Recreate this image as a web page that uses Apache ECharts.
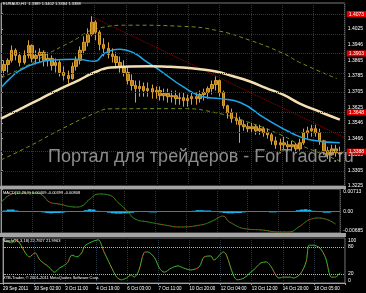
<!DOCTYPE html>
<html><head><meta charset="utf-8">
<script src="https://cdn.jsdelivr.net/npm/echarts@6/dist/echarts.min.js"></script>
<style>html,body{margin:0;padding:0;background:#000;}#c{width:366px;height:293px;}</style>
</head><body><div id="c"></div>
<script>
// ---------- data ----------
const xLabels = ['29 Sep 2011','30 Sep 02:00','3 Oct 11:00','4 Oct 19:00','6 Oct 03:00','7 Oct 11:00','10 Oct 20:00','12 Oct 04:00','13 Oct 12:00','14 Oct 20:00','18 Oct 05:00'];
const priceTickLabels = ['1.3225','1.3305','1.3385','1.3466','1.3546','1.3625','1.3705','1.3785','1.3865','1.3946','1.4025','1.4105'];

const candleBars = [3,7,11,15,19,24,28,32,36,40,44,48,52,56,60,64,69,73,77,81,85,89,93,97,101,105,110,114,118,122,126,130,134,138,142,146,150,155,159,163,167,171,175,179,183,187,191,195,200,204,208,212,216,220,224,228,232,236,241,245,249,253,257,261,265,269,273,277,281,286,290,294,298,302,306,310,314,318,322,326,331,335,339,343,347];
const openP  = [1.3813,1.3844,1.3865,1.3916,1.3890,1.3854,1.3890,1.3941,1.3875,1.3890,1.3906,1.3865,1.3875,1.3839,1.3854,1.3803,1.3788,1.3772,1.3834,1.3865,1.3916,1.3957,1.3998,1.4059,1.4008,1.3946,1.3926,1.3895,1.3885,1.3854,1.3834,1.3803,1.3762,1.3737,1.3721,1.3732,1.3711,1.3721,1.3701,1.3711,1.3685,1.3696,1.3680,1.3685,1.3670,1.3675,1.3660,1.3670,1.3680,1.3670,1.3691,1.3701,1.3721,1.3742,1.3762,1.3701,1.3634,1.3598,1.3568,1.3558,1.3537,1.3527,1.3517,1.3527,1.3506,1.3517,1.3496,1.3486,1.3455,1.3435,1.3445,1.3435,1.3425,1.3435,1.3414,1.3445,1.3496,1.3506,1.3517,1.3496,1.3455,1.3404,1.3384,1.3414,1.3394];
const closeP = [1.3844,1.3865,1.3916,1.3890,1.3854,1.3890,1.3941,1.3875,1.3890,1.3906,1.3865,1.3875,1.3839,1.3854,1.3803,1.3788,1.3772,1.3834,1.3865,1.3916,1.3957,1.3998,1.4059,1.4008,1.3946,1.3926,1.3895,1.3885,1.3854,1.3834,1.3803,1.3762,1.3737,1.3721,1.3732,1.3711,1.3721,1.3701,1.3711,1.3685,1.3696,1.3680,1.3685,1.3670,1.3675,1.3660,1.3670,1.3680,1.3670,1.3691,1.3701,1.3721,1.3742,1.3762,1.3701,1.3634,1.3598,1.3568,1.3558,1.3537,1.3527,1.3517,1.3527,1.3506,1.3517,1.3496,1.3486,1.3455,1.3435,1.3445,1.3435,1.3425,1.3435,1.3414,1.3445,1.3496,1.3506,1.3517,1.3496,1.3455,1.3404,1.3384,1.3414,1.3394,1.3388];
const lowP   = [1.3788,1.3803,1.3854,1.3865,1.3834,1.3844,1.3875,1.3854,1.3844,1.3854,1.3834,1.3834,1.3813,1.3803,1.3783,1.3762,1.3747,1.3767,1.3813,1.3844,1.3895,1.3936,1.3987,1.3967,1.3916,1.3885,1.3875,1.3854,1.3824,1.3803,1.3783,1.3742,1.3711,1.3650,1.3680,1.3680,1.3680,1.3670,1.3670,1.3660,1.3660,1.3650,1.3650,1.3639,1.3639,1.3629,1.3629,1.3639,1.3639,1.3650,1.3660,1.3670,1.3691,1.3711,1.3680,1.3619,1.3568,1.3547,1.3537,1.3445,1.3506,1.3496,1.3496,1.3486,1.3486,1.3476,1.3466,1.3435,1.3414,1.3404,1.3414,1.3404,1.3404,1.3394,1.3404,1.3435,1.3466,1.3476,1.3476,1.3435,1.3384,1.3363,1.3379,1.3374,1.3374];
const highP  = [1.3865,1.3875,1.3941,1.3926,1.3906,1.3916,1.3967,1.3946,1.3916,1.3926,1.3916,1.3906,1.3890,1.3875,1.3865,1.3834,1.3813,1.3854,1.3885,1.3936,1.3987,1.4028,1.4090,1.4069,1.4018,1.3977,1.3957,1.3926,1.3906,1.3885,1.3865,1.3834,1.3793,1.3762,1.3762,1.3752,1.3752,1.3742,1.3732,1.3732,1.3721,1.3721,1.3711,1.3711,1.3701,1.3701,1.3691,1.3701,1.3701,1.3711,1.3721,1.3732,1.3762,1.3783,1.3767,1.3711,1.3639,1.3619,1.3598,1.3578,1.3558,1.3547,1.3547,1.3537,1.3537,1.3527,1.3517,1.3496,1.3476,1.3466,1.3476,1.3455,1.3455,1.3445,1.3466,1.3517,1.3527,1.3537,1.3537,1.3517,1.3460,1.3425,1.3435,1.3435,1.3425];

const ma200Bars = [0,19,40,60,81,91,98,104,112,132,153,173,186,204,220,237,255,271,289,306,327,347];
const ma200     = [1.3568,1.3615,1.3668,1.3718,1.3767,1.3793,1.3808,1.3820,1.3828,1.3834,1.3835,1.3832,1.3829,1.3820,1.3808,1.3785,1.3757,1.3725,1.3690,1.3645,1.3602,1.3563];
const maBlueBars = [0,9,19,35,50,78,96,106,122,137,147,163,186,207,224,245,271,299,316,347];
const maBlue     = [1.3726,1.3772,1.3813,1.3849,1.3865,1.3870,1.3860,1.3900,1.3921,1.3900,1.3865,1.3813,1.3732,1.3680,1.3670,1.3650,1.3568,1.3491,1.3461,1.3445];
const envUpBars = [0,33,45,71,101,132,186,220,255,289,306,344];
const envUp     = [1.3775,1.3854,1.3890,1.3957,1.4030,1.4044,1.4038,1.4018,1.3967,1.3900,1.3854,1.3772];
const envLowBars = [0,30,60,98,112,186,220,255,289,306,327,347];
const envLow     = [1.3358,1.3430,1.3510,1.3600,1.3618,1.3619,1.3598,1.3547,1.3480,1.3435,1.3392,1.3353];
const levelPrices = [1.4073,1.3903,1.3648,1.3388];
const trendBars = [94,352];
const trendPrices = [1.4085,1.3471];

const macdBars = [0,9,19,37,45,50,60,78,84,91,102,112,122,132,139,153,170,186,207,217,227,230,237,255,271,289,299,309,322,330,347];
const macdVals = [0.00268,0.00522,0.00586,0.00586,0.00459,0.00300,0.00236,0.00141,0.00173,0.00364,0.00554,0.00522,0.00268,-0.00018,-0.00240,-0.00335,-0.00431,-0.00494,-0.00431,-0.00335,-0.00177,-0.00145,-0.00335,-0.00558,-0.00590,-0.00653,-0.00653,-0.00494,-0.00240,-0.00208,-0.00399];
const histBars = [4,8,12,16,44,48,52,56,60,64,68,88,92,96,100,112,116,120,124,128,132,136,140,152,156,160,164,200,204,208,212,216,220,228,232,236,240,244,248,252,256,280,284,288,308,312,316,320,324,332,336,340,344];
const histVals = [0.0003,0.0006,0.0006,0.0003,-0.0003,-0.0005,-0.0006,-0.0005,-0.0005,-0.0004,-0.0002,0.0004,0.0007,0.0006,0.0002,-0.0004,-0.0006,-0.0007,-0.0007,-0.0006,-0.0006,-0.0004,-0.0002,-0.0002,-0.0003,-0.0003,-0.0001,0.0002,0.0004,0.0004,0.0003,0.0003,0.0001,-0.0003,-0.0005,-0.0006,-0.0006,-0.0005,-0.0005,-0.0003,-0.0001,-0.0003,-0.0003,-0.0001,0.0004,0.0006,0.0007,0.0005,0.0002,-0.0002,-0.0004,-0.0004,-0.0002];
const macdTicks = [-0.00685,0,0.00713];
const macdTickLabels = ['-0.00685','0.00','0.00713'];

const stochBars = [0,6,9,12,17,23,27,33,38,47,53,58,66,71,76,81,84,91,98,104,112,117,122,127,132,135,140,145,149,156,161,166,173,180,186,193,202,207,214,217,227,230,237,241,248,255,258,265,271,276,284,289,296,299,306,312,315,319,326,332,338,342,347];
const stochVals = [93,91,89,96,89,67,58,67,51,36,24,33,44,62,58,67,82,91,96,69,33,13,7,11,18,13,29,67,69,56,33,24,33,38,33,29,36,58,60,51,69,62,18,7,11,24,29,44,47,36,11,13,13,11,20,47,84,84,78,56,13,13,22.79];
const stochTicks = [0,20,80,100];
const stochLevels = [20,80];

// ---------- build ----------
const zip = (a,b) => a.map((v,i) => [v,b[i]]);
const candles = candleBars.map((b,i) => [b, openP[i], closeP[i], lowP[i], highP[i]]);
const FONT = 'Liberation Sans';
const txt = '#ffffff';
const gridDots = {color:'#27323f', type:'dotted', width:1};

function xAx(i){
  return {type:'value', gridIndex:i, min:0, max:352, interval:32,
    axisLine:{show:false},
    axisTick:{show:i===2, length:2, lineStyle:{color:'#9a9a9a'}},
    axisLabel:{show:i===2, color:txt, fontSize:4.5, fontFamily:FONT, align:'left', margin:3,
      formatter:v => { const k = Math.round(v/32); return (Math.abs(v-k*32)<1e-6 && xLabels[k]) || ''; }},
    splitLine:{show:true, lineStyle:gridDots}};
}

const option = {
  backgroundColor:'#000',
  animation:false,
  grid:[
    {left:1, right:21, top:3, height:183, show:true, borderColor:'#7a7a7a', borderWidth:1, backgroundColor:'#000'},
    {left:1, right:21, top:189, height:44, show:true, borderColor:'#7a7a7a', borderWidth:1, backgroundColor:'#000'},
    {left:1, right:21, top:238, height:45, show:true, borderColor:'#7a7a7a', borderWidth:1, backgroundColor:'#000'}
  ],
  xAxis:[xAx(0), xAx(1), xAx(2)],
  yAxis:[
    {type:'value', gridIndex:0, position:'right', min:1.3225, max:1.4157, scale:true,
      axisLine:{show:true, lineStyle:{color:'#9a9a9a'}},
      axisTick:{show:true, length:2, customValues:priceTickLabels.map(Number), lineStyle:{color:'#9a9a9a'}},
      axisLabel:{customValues:priceTickLabels.map(Number), color:txt, fontSize:5, fontFamily:FONT, margin:3,
        formatter:v => v.toFixed(4)},
      splitLine:{show:false}},
    {type:'value', gridIndex:1, position:'right', min:-0.00685, max:0.00713,
      axisLine:{show:true, lineStyle:{color:'#9a9a9a'}},
      axisTick:{show:true, length:2, customValues:macdTicks, lineStyle:{color:'#9a9a9a'}},
      axisLabel:{customValues:macdTicks, color:txt, fontSize:5, fontFamily:FONT, margin:3,
        verticalAlignMaxLabel:'top', verticalAlignMinLabel:'bottom',
        formatter:v => macdTickLabels[macdTicks.indexOf(v)] || ''},
      splitLine:{show:false}},
    {type:'value', gridIndex:2, position:'right', min:0, max:100,
      axisLine:{show:true, lineStyle:{color:'#9a9a9a'}},
      axisTick:{show:true, length:2, customValues:stochTicks, lineStyle:{color:'#9a9a9a'}},
      axisLabel:{customValues:stochTicks, color:txt, fontSize:5, fontFamily:FONT, margin:3,
        verticalAlignMaxLabel:'top', verticalAlignMinLabel:'bottom',
        formatter:v => String(v)},
      splitLine:{show:false}}
  ],
  series:[
    {type:'line', xAxisIndex:0, yAxisIndex:0, data:[], z:1,
      markLine:{symbol:'none', silent:true, label:{show:false},
        lineStyle:gridDots, data:priceTickLabels.map(v => ({yAxis:Number(v)}))}},
    {type:'line', name:'env up', xAxisIndex:0, yAxisIndex:0, data:zip(envUpBars,envUp), smooth:true, showSymbol:false,
      lineStyle:{color:'#6f8f1f', width:1, type:[4,3]}, z:2},
    {type:'line', name:'env low', xAxisIndex:0, yAxisIndex:0, data:zip(envLowBars,envLow), smooth:true, showSymbol:false,
      lineStyle:{color:'#6f8f1f', width:1, type:[4,3]}, z:2},
    {type:'line', name:'trend', xAxisIndex:0, yAxisIndex:0, data:zip(trendBars,trendPrices), showSymbol:false,
      lineStyle:{color:'#a80000', width:1, type:'dotted'}, z:2},
    {type:'candlestick', xAxisIndex:0, yAxisIndex:0, data:candles, barWidth:3, z:3,
      itemStyle:{color:'#b97b17', color0:'#b97b17', borderColor:'#d9a032', borderColor0:'#d9a032', borderWidth:1},
      markLine:{symbol:'none', silent:true,
        data:levelPrices.map(v => ({yAxis:v,
          lineStyle:{color:'#b40000', type:'dotted', width:1},
          label:{show:true, position:'end', distance:2, formatter:v.toFixed(4), color:'#fff', backgroundColor:'#e00000',
            fontSize:5, fontFamily:FONT, padding:[1,2,0,2]}}))}},
    {type:'line', name:'MA blue', xAxisIndex:0, yAxisIndex:0, data:zip(maBlueBars,maBlue), smooth:true, showSymbol:false,
      lineStyle:{color:'#1ea6ea', width:1.5}, z:4},
    {type:'line', name:'MA200', xAxisIndex:0, yAxisIndex:0, data:zip(ma200Bars,ma200), smooth:true, showSymbol:false,
      lineStyle:{color:'#f3dfb2', width:2.5}, z:4},

    {type:'bar', xAxisIndex:1, yAxisIndex:1, data:zip(histBars,histVals), barWidth:4,
      itemStyle:{color:'#1fb4f2'}, z:2,
      markLine:{symbol:'none', silent:true, label:{show:false},
        lineStyle:{color:'#1f86c4', type:'solid', width:1}, data:[{yAxis:0}]}},
    {type:'line', xAxisIndex:1, yAxisIndex:1, data:zip(macdBars,macdVals), smooth:true, showSymbol:false,
      lineStyle:{color:'#1f8a1f', width:1}, z:3},
    {type:'line', xAxisIndex:1, yAxisIndex:1, data:zip(macdBars,macdVals), smooth:true, showSymbol:false,
      lineStyle:{color:'#c81e1e', width:1, type:[1,3]}, z:4},

    {type:'line', xAxisIndex:2, yAxisIndex:2, data:zip(stochBars,stochVals), smooth:0.3, showSymbol:false,
      lineStyle:{color:'#2ec42e', width:1}, z:3,
      markLine:{symbol:'none', silent:true, label:{show:false},
        lineStyle:{color:'#b4b4b4', type:'dotted', width:1}, data:stochLevels.map(v => ({yAxis:v}))}},
    {type:'line', xAxisIndex:2, yAxisIndex:2, data:zip(stochBars,stochVals), smooth:0.3, showSymbol:false,
      lineStyle:{color:'#d42020', width:1, type:[1,4]}, z:4}
  ],
  graphic:[
    {type:'rect', shape:{x:0, y:186, width:346, height:3}, style:{fill:'#a4a4a4'}, z:100, silent:true},
    {type:'rect', shape:{x:0, y:233, width:346, height:4}, style:{fill:'#a4a4a4'}, z:100, silent:true},
    {type:'rect', shape:{x:0, y:283, width:346, height:1}, style:{fill:'#a4a4a4'}, z:100, silent:true},
    {type:'text', x:3, y:2, z:100, silent:true, style:{text:'EURAUD,H1  1.3389 1.3402 1.3384 1.3388', fill:txt, font:'4px "Liberation Sans"'}},
    {type:'text', x:3, y:191, z:100, silent:true, style:{text:'MACD(12,26,9) 0.00409 -0.00399 -0.00808', fill:txt, font:'4px "Liberation Sans"'}},
    {type:'text', x:3, y:239, z:100, silent:true, style:{text:'Stoch(21,3,18) 22.7927 21.9963', fill:txt, font:'4px "Liberation Sans"'}},
    {type:'text', x:3, y:276, z:100, silent:true, style:{text:'XTB-Trader, © 2001-2011 MetaQuotes Software Corp.', fill:txt, font:'4px "Liberation Sans"'}},
    {type:'text', x:48, y:148, z:90, silent:true, style:{text:'Портал для трейдеров - ForTrader.ru', fill:'rgba(165,165,165,0.85)', font:'18px "Liberation Sans"'}}
  ]
};
const chart = echarts.init(document.getElementById('c'), null, {renderer:'canvas'});
chart.setOption(option);
</script></body></html>
